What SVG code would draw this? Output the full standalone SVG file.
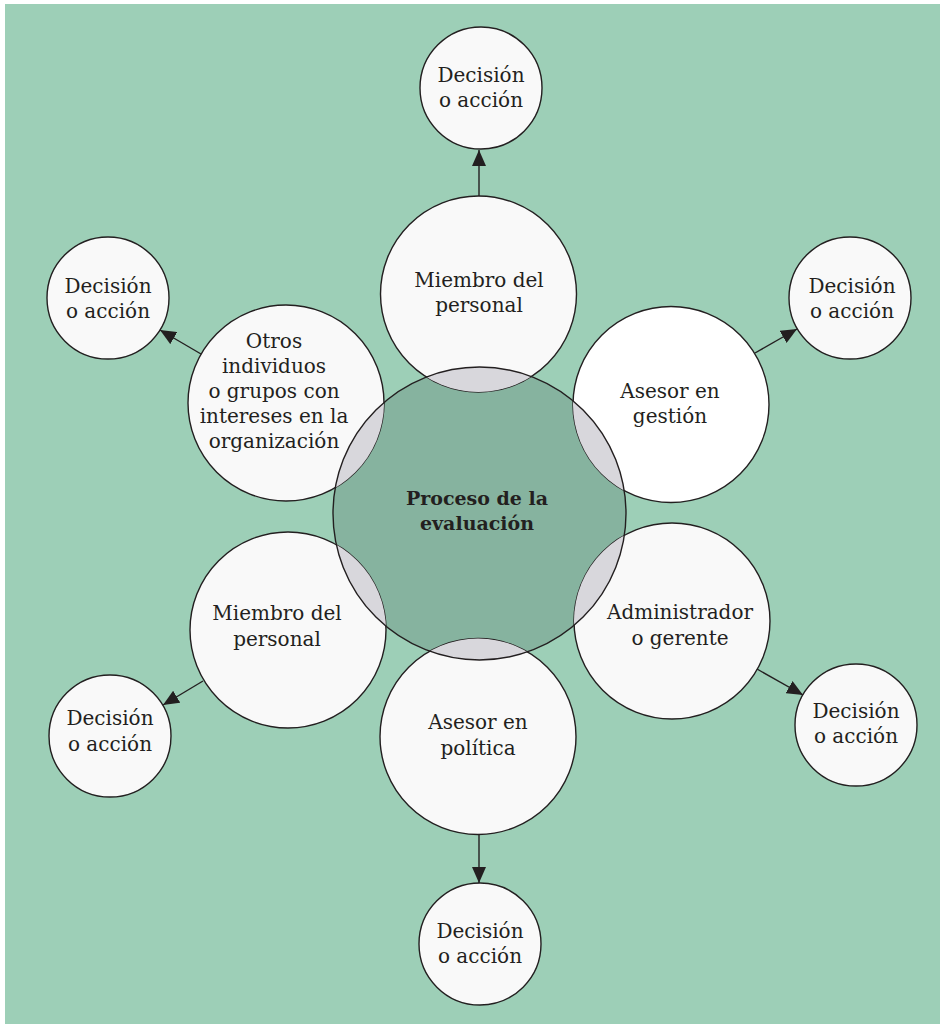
<svg xmlns="http://www.w3.org/2000/svg" width="940" height="1024" viewBox="0 0 940 1024">
<style>
.bg{fill:#9dcfb7}
.outer{fill:#f9f9f9;stroke:#231f20;stroke-width:1.4}
.small{fill:#f9f9f9;stroke:#231f20;stroke-width:1.4}
.lens{fill:#d8d7dc;stroke:none}
.outline{fill:none;stroke:#231f20;stroke-width:1.4}
.cfill{fill:#86b39f;stroke:none}
.t{font-family:"DejaVu Serif","Liberation Serif",serif;font-size:20px;fill:#231f20;text-anchor:middle}
.tb{font-family:"DejaVu Serif","Liberation Serif",serif;font-size:19px;font-weight:bold;fill:#231f20;text-anchor:middle}
.conn{stroke:#231f20;stroke-width:1.4;fill:none;marker-end:url(#arrow)}
</style>
<defs>
<clipPath id="cc"><circle cx="479.5" cy="513.5" r="146.5"/></clipPath>
<marker id="arrow" markerUnits="userSpaceOnUse" markerWidth="16" markerHeight="14" refX="16" refY="7" orient="auto">
<path d="M0,0 L16,7 L0,14 z" fill="#231f20"/>
</marker>
</defs>
<rect class="bg" x="5" y="4" width="935" height="1020"/>

<g id="center-fill"><circle class="cfill" cx="479.5" cy="513.5" r="146.5"/></g>

<g id="node-miembro-top">
<circle class="outer" cx="478.5" cy="294" r="98"/>
<circle class="lens" cx="478.5" cy="294" r="98" clip-path="url(#cc)"/>
<text class="t" x="479" y="287">Miembro del</text>
<text class="t" x="479" y="312">personal</text>
</g>
<g id="node-asesor-gestion">
<circle class="outer" cx="671" cy="404.5" r="98" style="fill:#ffffff"/>
<circle class="lens" cx="671" cy="404.5" r="98" clip-path="url(#cc)"/>
<text class="t" x="670" y="398">Asesor en</text>
<text class="t" x="670" y="423">gestión</text>
</g>
<g id="node-administrador">
<circle class="outer" cx="672" cy="621" r="98"/>
<circle class="lens" cx="672" cy="621" r="98" clip-path="url(#cc)"/>
<text class="t" x="680" y="619">Administrador</text>
<text class="t" x="680" y="645">o gerente</text>
</g>
<g id="node-asesor-politica">
<circle class="outer" cx="478" cy="736.5" r="98"/>
<circle class="lens" cx="478" cy="736.5" r="98" clip-path="url(#cc)"/>
<text class="t" x="478" y="729">Asesor en</text>
<text class="t" x="478" y="755">política</text>
</g>
<g id="node-miembro-bottom">
<circle class="outer" cx="288" cy="630" r="98"/>
<circle class="lens" cx="288" cy="630" r="98" clip-path="url(#cc)"/>
<text class="t" x="277" y="620">Miembro del</text>
<text class="t" x="277" y="646">personal</text>
</g>
<g id="node-otros">
<circle class="outer" cx="286" cy="403" r="98"/>
<circle class="lens" cx="286" cy="403" r="98" clip-path="url(#cc)"/>
<text class="t" x="274" y="348">Otros</text>
<text class="t" x="274" y="373">individuos</text>
<text class="t" x="274" y="398">o grupos con</text>
<text class="t" x="274" y="423">intereses en la</text>
<text class="t" x="274" y="448">organización</text>
</g>

<g id="node-center">
<circle class="outline" cx="479.5" cy="513.5" r="146.5"/>
<text class="tb" x="477" y="505">Proceso de la</text>
<text class="tb" x="477" y="530">evaluación</text>
</g>

<g id="node-dec-top">
<circle class="small" cx="481" cy="88" r="61"/>
<text class="t" x="481" y="82">Decisión</text>
<text class="t" x="481" y="107">o acción</text>
</g>
<g id="node-dec-topright">
<circle class="small" cx="850" cy="298" r="61"/>
<text class="t" x="852" y="293">Decisión</text>
<text class="t" x="852" y="318">o acción</text>
</g>
<g id="node-dec-bottomright">
<circle class="small" cx="856" cy="725" r="61"/>
<text class="t" x="856" y="718">Decisión</text>
<text class="t" x="856" y="743">o acción</text>
</g>
<g id="node-dec-bottom">
<circle class="small" cx="480" cy="944" r="61"/>
<text class="t" x="480" y="938">Decisión</text>
<text class="t" x="480" y="963">o acción</text>
</g>
<g id="node-dec-bottomleft">
<circle class="small" cx="110" cy="736" r="61"/>
<text class="t" x="110" y="725">Decisión</text>
<text class="t" x="110" y="751">o acción</text>
</g>
<g id="node-dec-topleft">
<circle class="small" cx="108" cy="298" r="61"/>
<text class="t" x="108" y="293">Decisión</text>
<text class="t" x="108" y="318">o acción</text>
</g>

<g id="connectors">
<line class="conn" x1="479" y1="196" x2="479" y2="150"/>
<line class="conn" x1="755" y1="353" x2="797" y2="329"/>
<line class="conn" x1="757" y1="669" x2="803" y2="695"/>
<line class="conn" x1="479" y1="835" x2="479" y2="883"/>
<line class="conn" x1="203" y1="681" x2="163" y2="705"/>
<line class="conn" x1="201" y1="354" x2="160" y2="330"/>
</g>
</svg>
